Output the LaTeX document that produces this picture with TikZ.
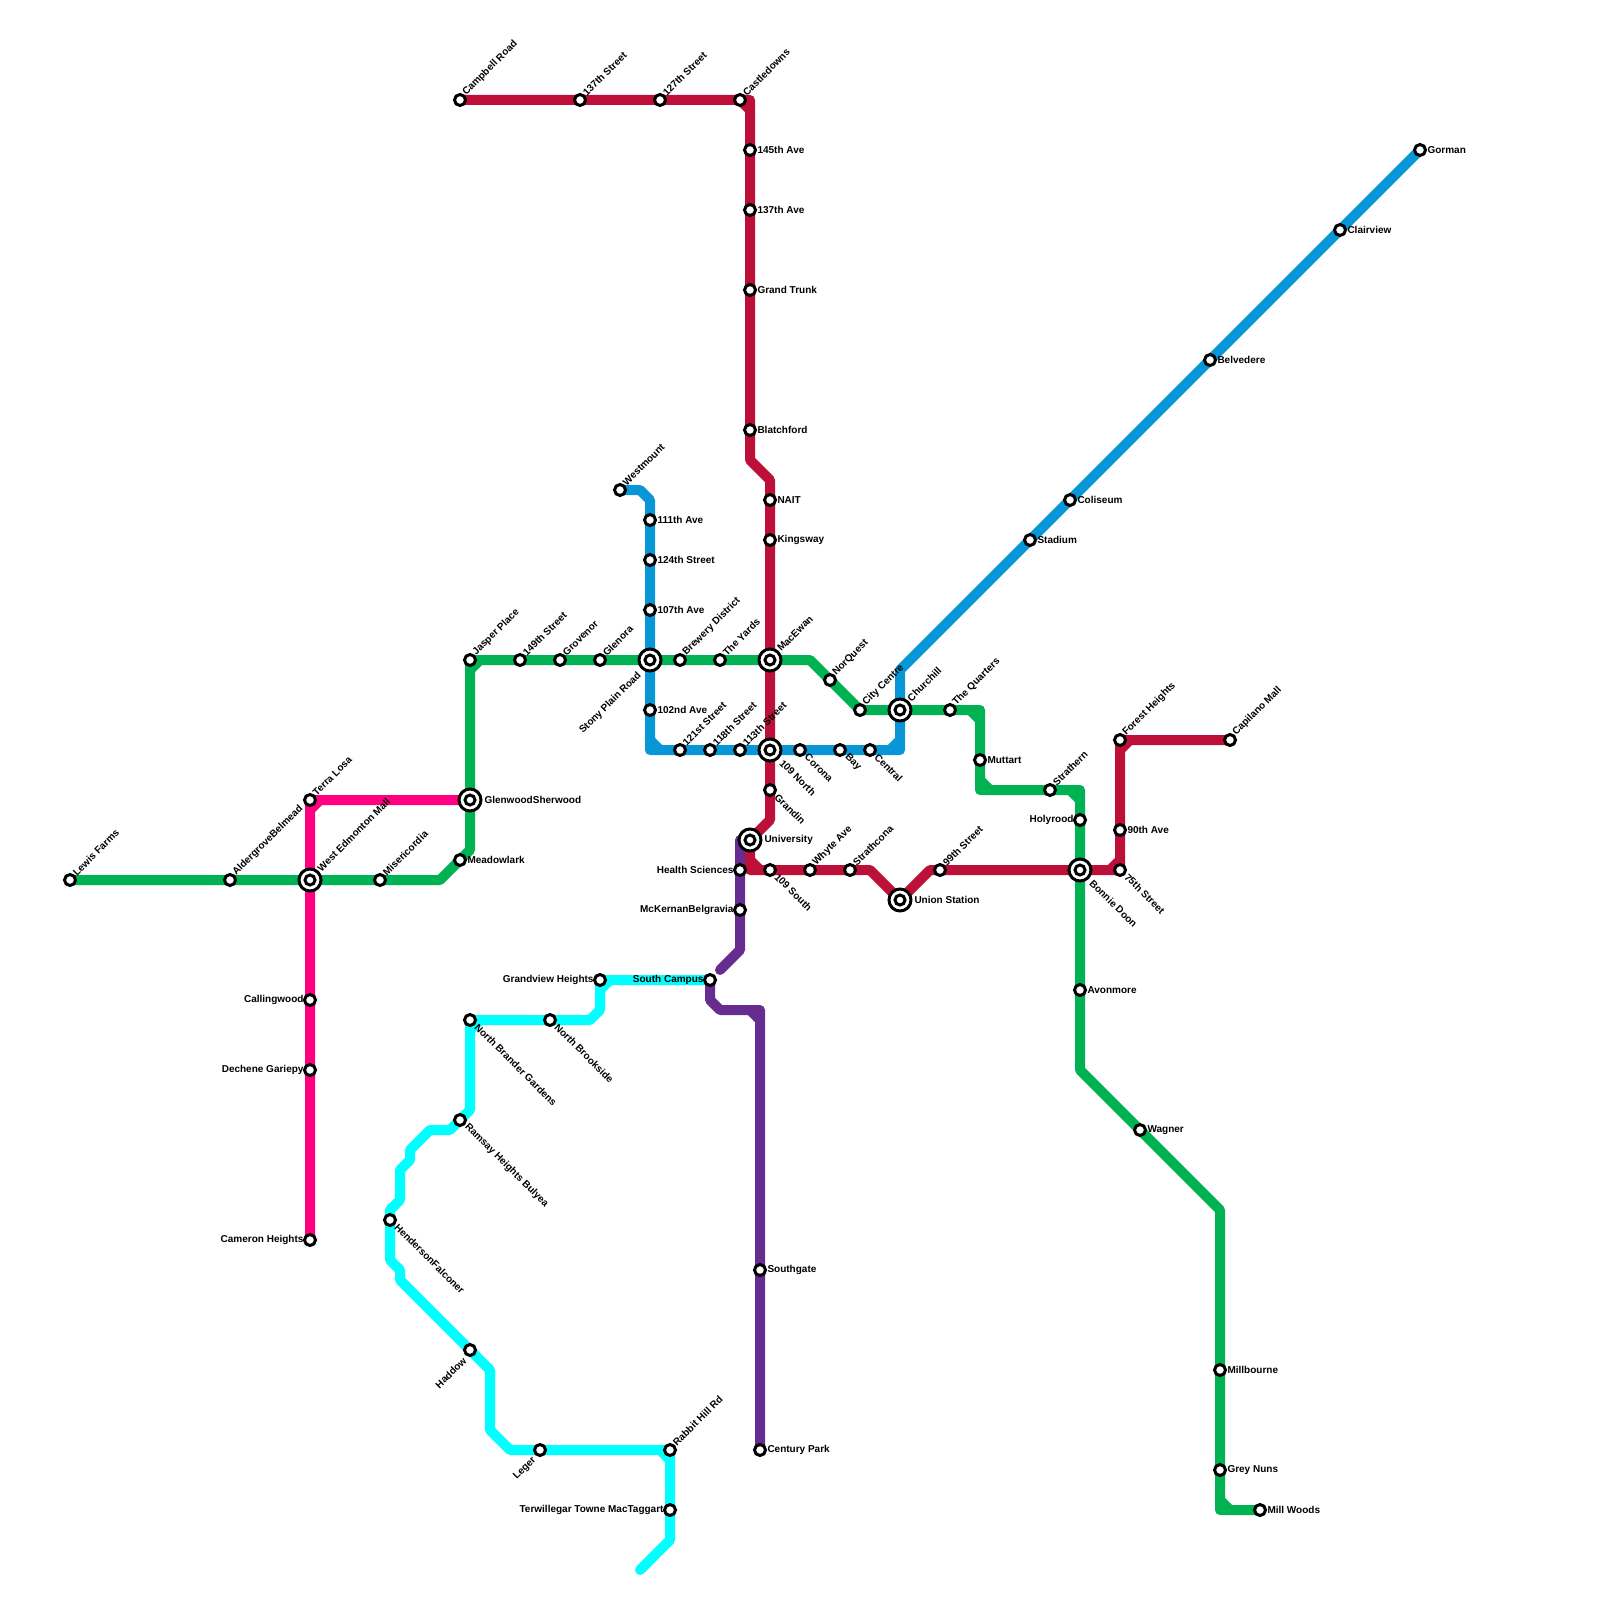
\documentclass[tikz,border=0pt]{standalone}
\usepackage{fontspec}
\setmainfont{Liberation Sans}
\usepackage{xcolor}
\usetikzlibrary{backgrounds}
\definecolor{lineGreen}{HTML}{00B251}
\definecolor{lineBlue}{HTML}{0896D7}
\definecolor{lineRed}{HTML}{BD1038}
\definecolor{linePink}{HTML}{FF0080}
\definecolor{linePurple}{HTML}{662C90}
\definecolor{lineCyan}{HTML}{00FFFF}

\begin{document}
\begin{tikzpicture}[x=1pt,y=-1pt,
  lbl/.style={font=\fontsize{10}{12}\selectfont\bfseries,inner sep=0pt,outer sep=0pt},
  stn/.style={circle,draw=black,fill=white,line width=3pt,minimum size=11pt,inner sep=0pt},
  hub/.style={circle,draw=black,fill=white,line width=3pt,minimum size=22pt,inner sep=0pt,
              path picture={\draw[line width=3pt] (path picture bounding box.center) circle (5pt);}},
  lne/.style={label={[lbl,anchor=west,xshift=-2.5pt,yshift=6pt,rotate=45]0:#1}},
  lse/.style={label={[lbl,anchor=west,xshift=-0.5pt,yshift=-5.5pt,rotate=-45]0:#1}},
  lsw/.style={label={[lbl,anchor=east,xshift=-12.5pt,yshift=-9pt,rotate=45]0:#1}},
  le/.style={label={[lbl,anchor=west,xshift=0.5pt,yshift=0pt]0:#1}},
  lw/.style={label={[lbl,anchor=east,xshift=-13.5pt,yshift=0pt]0:#1}},
  xne/.style={label={[lbl,anchor=west,xshift=-3.5pt,yshift=10.5pt,rotate=45]0:#1}},
  xse/.style={label={[lbl,anchor=west,xshift=-1pt,yshift=-11.5pt,rotate=-45]0:#1}},
  xsw/.style={label={[lbl,anchor=east,xshift=-23pt,yshift=-14pt,rotate=45]0:#1}},
  xe/.style={label={[lbl,anchor=west,xshift=2pt,yshift=0pt]0:#1}},
  metro/.style={line width=10pt,line cap=round,line join=round,draw=#1}]
  \useasboundingbox (0,0) rectangle (1600,1600);

  % interchanges
  \node[hub,xne={West Edmonton Mall}] (wem) at (310,880) {};
  \node[hub,xe={GlenwoodSherwood}] (glenwood) at (470,800) {};
  \node[hub,xsw={Stony Plain Road}] (stonyplain) at (650,660) {};
  \node[hub,xne={MacEwan}] (macewan) at (770,660) {};
  \node[hub,xse={109 North}] (north109) at (770,750) {};
  \node[hub,xe={University}] (university) at (750,840) {};
  \node[hub,xne={Churchill}] (churchill) at (900,710) {};
  \node[hub,xe={Union Station}] (union) at (900,900) {};
  \node[hub,xse={Bonnie Doon}] (bonnie) at (1080,870) {};

  % green
  \node[stn,lne={Lewis Farms}] (lewis) at (70,880) {};
  \node[stn,lne={AldergroveBelmead}] (aldergrove) at (230,880) {};
  \node[stn,lne={Misericordia}] (misericordia) at (380,880) {};
  \node[stn,le={Meadowlark}] (meadowlark) at (460,860) {};
  \node[stn,lne={Jasper Place}] (jasper) at (470,660) {};
  \node[stn,lne={149th Street}] (st149) at (520,660) {};
  \node[stn,lne={Grovenor}] (grovenor) at (560,660) {};
  \node[stn,lne={Glenora}] (glenora) at (600,660) {};
  \node[stn,lne={Brewery District}] (brewery) at (680,660) {};
  \node[stn,lne={The Yards}] (yards) at (720,660) {};
  \node[stn,lne={NorQuest}] (norquest) at (830,680) {};
  \node[stn,lne={City Centre}] (citycentre) at (860,710) {};
  \node[stn,lne={The Quarters}] (quarters) at (950,710) {};
  \node[stn,le={Muttart}] (muttart) at (980,760) {};
  \node[stn,lne={Strathern}] (strathern) at (1050,790) {};
  \node[stn,lw={Holyrood}] (holyrood) at (1080,820) {};
  \node[stn,le={Avonmore}] (avonmore) at (1080,990) {};
  \node[stn,le={Wagner}] (wagner) at (1140,1130) {};
  \node[stn,le={Millbourne}] (millbourne) at (1220,1370) {};
  \node[stn,le={Grey Nuns}] (greynuns) at (1220,1470) {};
  \node[stn,le={Mill Woods}] (millwoods) at (1260,1510) {};

  % blue
  \node[stn,lne={Westmount}] (westmount) at (620,490) {};
  \node[stn,le={111th Ave}] (ave111) at (650,520) {};
  \node[stn,le={124th Street}] (st124) at (650,560) {};
  \node[stn,le={107th Ave}] (ave107) at (650,610) {};
  \node[stn,le={102nd Ave}] (ave102) at (650,710) {};
  \node[stn,lne={121st Street}] (st121) at (680,750) {};
  \node[stn,lne={118th Street}] (st118) at (710,750) {};
  \node[stn,lne={113th Street}] (st113) at (740,750) {};
  \node[stn,lse={Corona}] (corona) at (800,750) {};
  \node[stn,lse={Bay}] (bay) at (840,750) {};
  \node[stn,lse={Central}] (central) at (870,750) {};
  \node[stn,le={Stadium}] (stadium) at (1030,540) {};
  \node[stn,le={Coliseum}] (coliseum) at (1070,500) {};
  \node[stn,le={Belvedere}] (belvedere) at (1210,360) {};
  \node[stn,le={Clairview}] (clairview) at (1340,230) {};
  \node[stn,le={Gorman}] (gorman) at (1420,150) {};

  % red
  \node[stn,lne={Campbell Road}] (campbell) at (460,100) {};
  \node[stn,lne={137th Street}] (st137) at (580,100) {};
  \node[stn,lne={127th Street}] (st127) at (660,100) {};
  \node[stn,lne={Castledowns}] (castledowns) at (740,100) {};
  \node[stn,le={145th Ave}] (ave145) at (750,150) {};
  \node[stn,le={137th Ave}] (ave137) at (750,210) {};
  \node[stn,le={Grand Trunk}] (grandtrunk) at (750,290) {};
  \node[stn,le={Blatchford}] (blatchford) at (750,430) {};
  \node[stn,le={NAIT}] (nait) at (770,500) {};
  \node[stn,le={Kingsway}] (kingsway) at (770,540) {};
  \node[stn,lse={Grandin}] (grandin) at (770,790) {};
  \node[stn,lse={109 South}] (south109) at (770,870) {};
  \node[stn,lne={Whyte Ave}] (whyte) at (810,870) {};
  \node[stn,lne={Strathcona}] (strathcona) at (850,870) {};
  \node[stn,lne={99th Street}] (st99) at (940,870) {};
  \node[stn,lse={75th Street}] (st75) at (1120,870) {};
  \node[stn,le={90th Ave}] (ave90) at (1120,830) {};
  \node[stn,lne={Forest Heights}] (forest) at (1120,740) {};
  \node[stn,lne={Capilano Mall}] (capilano) at (1230,740) {};

  % pink
  \node[stn,lne={Terra Losa}] (terralosa) at (310,800) {};
  \node[stn,lw={Callingwood}] (callingwood) at (310,1000) {};
  \node[stn,lw={Dechene Gariepy}] (dechene) at (310,1070) {};
  \node[stn,lw={Cameron Heights}] (cameron) at (310,1240) {};

  % purple
  \node[stn,lw={Health Sciences}] (health) at (740,870) {};
  \node[stn,lw={McKernanBelgravia}] (mckernan) at (740,910) {};
  \node[stn,lw={South Campus}] (southcampus) at (710,980) {};
  \node[stn,le={Southgate}] (southgate) at (760,1270) {};
  \node[stn,le={Century Park}] (century) at (760,1450) {};

  % cyan
  \node[stn,lw={Grandview Heights}] (grandview) at (600,980) {};
  \node[stn,lse={North Brookside}] (brookside) at (550,1020) {};
  \node[stn,lse={North Brander Gardens}] (brander) at (470,1020) {};
  \node[stn,lse={Ramsay Heights Bulyea}] (ramsay) at (460,1120) {};
  \node[stn,lse={HendersonFalconer}] (henderson) at (390,1220) {};
  \node[stn,lsw={Haddow}] (haddow) at (470,1350) {};
  \node[stn,lsw={Leger}] (leger) at (540,1450) {};
  \node[stn,lne={Rabbit Hill Rd}] (rabbit) at (670,1450) {};
  \node[stn,lw={Terwillegar Towne MacTaggart}] (terwillegar) at (670,1510) {};

  \coordinate (cyanend) at (640,1570);
  \coordinate (purpleend) at (720,970);

  \begin{scope}[on background layer]
    \draw[metro=lineGreen] (lewis.center) -- (wem.center) -- (440,880) -- (470,850) -- (glenwood.center) -- (jasper.center) -- (stonyplain.center) -- (macewan.center) -- (810,660) -- (citycentre.center) -- (churchill.center) -- (980,710) -- (980,790) -- (1080,790) -- (bonnie.center) -- (1080,1070) -- (1220,1210) -- (1220,1510) -- (millwoods.center)
      (470,670) -- (jasper.center) -- (480,660) -- cycle
      (970,710) -- (980,710) -- (980,720) -- cycle
      (980,780) -- (980,790) -- (990,790) -- cycle
      (1070,790) -- (1080,790) -- (1080,800) -- cycle
      (1220,1500) -- (1220,1510) -- (1230,1510) -- cycle;
    \draw[metro=lineBlue] (westmount.center) -- (640,490) -- (650,500) -- (stonyplain.center) -- (650,750) -- (900,750) -- (churchill.center) -- (900,670) -- (gorman.center)
      (650,740) -- (650,750) -- (660,750) -- cycle
      (890,750) -- (900,750) -- (900,740) -- cycle;
    \draw[metro=linePink] (glenwood.center) -- (terralosa.center) -- (cameron.center)
      (320,800) -- (terralosa.center) -- (310,810) -- cycle;
    \draw[metro=linePurple] (university.center) -- (740,840) -- (740,950) -- (purpleend)
      (southcampus.center) -- (710,1000) -- (720,1010) -- (760,1010) -- (century.center)
      (750,1010) -- (760,1010) -- (760,1020) -- cycle;
    \draw[metro=lineRed] (campbell.center) -- (750,100) -- (750,460) -- (770,480) -- (770,820) -- (university.center) -- (750,870) -- (870,870) -- (union.center) -- (930,870) -- (st75.center) -- (forest.center) -- (capilano.center)
      (740,100) -- (750,100) -- (750,110) -- cycle
      (750,860) -- (750,870) -- (760,870) -- cycle
      (1110,870) -- (st75.center) -- (1120,860) -- cycle
      (1120,750) -- (forest.center) -- (1130,740) -- cycle;
    \draw[metro=lineCyan] (southcampus.center) -- (grandview.center) -- (600,1010) -- (590,1020) -- (brander.center) -- (470,1110) -- (450,1130) -- (430,1130) -- (410,1150) -- (410,1160) -- (400,1170) -- (400,1200) -- (390,1210) -- (390,1260) -- (400,1270) -- (400,1280) -- (490,1370) -- (490,1430) -- (510,1450) -- (rabbit.center) -- (670,1540) -- (cyanend)
      (610,980) -- (grandview.center) -- (600,990) -- cycle
      (480,1020) -- (brander.center) -- (470,1030) -- cycle
      (660,1450) -- (rabbit.center) -- (670,1460) -- cycle;
  \end{scope}
\end{tikzpicture}
\end{document}
